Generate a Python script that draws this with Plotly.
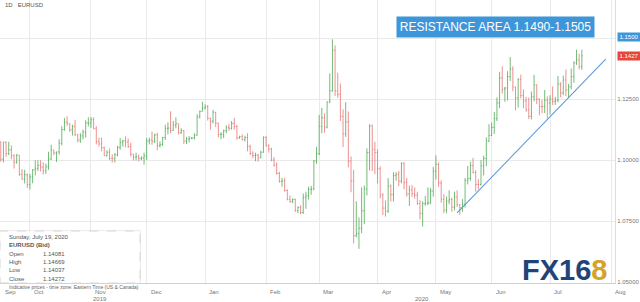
import pandas as pd
import plotly.graph_objects as go

# ---------------- data (EURUSD daily) ----------------
first_open = 1.1075
close = [
    # Sep 2019 (16..30)
    1.1003, 1.1073, 1.1027, 1.1042, 1.1017, 1.0991, 1.1020, 1.0941, 1.0922, 1.0940, 1.0899,
    # Oct
    1.0931, 1.0960, 1.0966, 1.0978, 1.0971, 1.0956, 1.0972, 1.1004, 1.1041, 1.1029, 1.1033, 1.1069,
    1.1125, 1.1155, 1.1150, 1.1124, 1.1137, 1.1104, 1.1082, 1.1099, 1.1115, 1.1152, 1.1152,
    # Nov
    1.1165, 1.1128, 1.1075, 1.1066, 1.1051, 1.1018, 1.1032, 1.1007, 1.1006, 1.1022, 1.1052,
    1.1073, 1.1079, 1.1074, 1.1055, 1.1024, 1.1012, 1.1013, 1.1006, 1.1009, 1.1017,
    # Dec
    1.1078, 1.1082, 1.1077, 1.1103, 1.1059, 1.1063, 1.1092, 1.1130, 1.1131, 1.1121, 1.1143,
    1.1149, 1.1112, 1.1121, 1.1078, 1.1086, 1.1089, 1.1090, 1.1102, 1.1177, 1.1199, 1.1213,
    # Jan 2020
    1.1218, 1.1171, 1.1159, 1.1196, 1.1151, 1.1105, 1.1106, 1.1120, 1.1135, 1.1130, 1.1150, 1.1137,
    1.1091, 1.1096, 1.1084, 1.1092, 1.1056, 1.1027, 1.1019, 1.1020, 1.1009, 1.1032, 1.1093,
    # Feb
    1.1060, 1.1045, 1.1000, 1.0980, 1.0945, 1.0912, 1.0915, 1.0875, 1.0838, 1.0830,
    1.0838, 1.0793, 1.0806, 1.0785, 1.0846, 1.0853, 1.0880, 1.0882, 1.0996, 1.1026,
    # Mar
    1.1138, 1.1173, 1.1135, 1.1238, 1.1284, 1.1450, 1.1284, 1.1269, 1.1179, 1.1107, 1.1157,
    1.0996, 1.0915, 1.0690, 1.0698, 1.0720, 1.0792, 1.0881, 1.1030, 1.1140, 1.1044, 1.1031,
    # Apr
    1.0964, 1.0857, 1.0803, 1.0791, 1.0893, 1.0858, 1.0936, 1.0942, 1.0914, 1.0987, 1.0908,
    1.0861, 1.0877, 1.0862, 1.0856, 1.0822, 1.0781, 1.0821, 1.0823, 1.0825, 1.0873, 1.0954,
    # May
    1.0982, 1.0906, 1.0839, 1.0795, 1.0832, 1.0838, 1.0807, 1.0849, 1.0817, 1.0805, 1.0819,
    1.0917, 1.0924, 1.0978, 1.0949, 1.0900, 1.0900, 1.0976, 1.1006, 1.1077, 1.1101,
    # Jun
    1.1134, 1.1170, 1.1234, 1.1336, 1.1290, 1.1295, 1.1342, 1.1373, 1.1300, 1.1255, 1.1330,
    1.1264, 1.1242, 1.1207, 1.1179, 1.1259, 1.1308, 1.1250, 1.1219, 1.1219, 1.1245, 1.1234,
    # Jul (1..17)
    1.1250, 1.1240, 1.1246, 1.1311, 1.1275, 1.1328, 1.1287, 1.1300, 1.1342, 1.1398, 1.1410,
    1.1382, 1.1427,
]
high = [
    1.1076, 1.1075, 1.1076, 1.1075, 1.1060, 1.1025, 1.1025, 1.1020, 1.0963, 1.0960, 1.0945,
    1.0943, 1.0963, 1.0999, 1.0999, 1.0999, 1.0991, 1.0985, 1.1034, 1.1063, 1.1041, 1.1035, 1.1085,
    1.1139, 1.1172, 1.1179, 1.1150, 1.1145, 1.1164, 1.1107, 1.1110, 1.1125, 1.1163, 1.1175,
    1.1176, 1.1175, 1.1139, 1.1092, 1.1092, 1.1055, 1.1040, 1.1047, 1.1024, 1.1029, 1.1058,
    1.1090, 1.1083, 1.1097, 1.1089, 1.1071, 1.1025, 1.1030, 1.1022, 1.1015, 1.1030,
    1.1090, 1.1092, 1.1117, 1.1108, 1.1112, 1.1076, 1.1095, 1.1145, 1.1155, 1.1200, 1.1160,
    1.1175, 1.1149, 1.1130, 1.1123, 1.1095, 1.1098, 1.1095, 1.1110, 1.1188, 1.1203, 1.1239,
    1.1228, 1.1226, 1.1174, 1.1206, 1.1197, 1.1153, 1.1114, 1.1125, 1.1142, 1.1148, 1.1160, 1.1173,
    1.1144, 1.1100, 1.1105, 1.1100, 1.1110, 1.1063, 1.1036, 1.1030, 1.1025, 1.1038, 1.1097,
    1.1097, 1.1064, 1.1050, 1.1012, 1.0990, 1.0952, 1.0927, 1.0927, 1.0880, 1.0855,
    1.0843, 1.0842, 1.0810, 1.0815, 1.0863, 1.0870, 1.0891, 1.0894, 1.1000, 1.1054,
    1.1185, 1.1214, 1.1191, 1.1240, 1.1355, 1.1495, 1.1470, 1.1358, 1.1314, 1.1208, 1.1237,
    1.1199, 1.1015, 1.0960, 1.0831, 1.0765, 1.0888, 1.0895, 1.1048, 1.1147, 1.1145, 1.1075,
    1.1044, 1.0974, 1.0865, 1.0835, 1.0926, 1.0900, 1.0950, 1.0950, 1.0955, 1.0990, 1.0990,
    1.0926, 1.0895, 1.0898, 1.0888, 1.0870, 1.0836, 1.0831, 1.0853, 1.0888, 1.0886, 1.0972,
    1.1019, 1.0990, 1.0917, 1.0860, 1.0850, 1.0876, 1.0846, 1.0870, 1.0876, 1.0820, 1.0840,
    1.0926, 1.0976, 1.0993, 1.1009, 1.0958, 1.0922, 1.1000, 1.1018, 1.1093, 1.1147,
    1.1154, 1.1197, 1.1257, 1.1361, 1.1384, 1.1300, 1.1364, 1.1422, 1.1384, 1.1300, 1.1335,
    1.1350, 1.1290, 1.1259, 1.1256, 1.1281, 1.1349, 1.1310, 1.1252, 1.1247, 1.1287, 1.1261,
    1.1266, 1.1302, 1.1259, 1.1345, 1.1319, 1.1346, 1.1371, 1.1312, 1.1375, 1.1405, 1.1452,
    1.1436, 1.1452,
]
low = [
    1.0993, 1.0990, 1.1013, 1.1020, 1.1003, 1.0965, 1.0985, 1.0935, 1.0920, 1.0904, 1.0885,
    1.0879, 1.0905, 1.0937, 1.0955, 1.0953, 1.0940, 1.0943, 1.0960, 1.1000, 1.1020, 1.0992, 1.1022,
    1.1060, 1.1120, 1.1140, 1.1115, 1.1100, 1.1098, 1.1072, 1.1070, 1.1085, 1.1092, 1.1138,
    1.1132, 1.1127, 1.1064, 1.1055, 1.1036, 1.1017, 1.1015, 1.0999, 1.0989, 1.0990, 1.1015,
    1.1042, 1.1055, 1.1052, 1.1050, 1.1014, 1.0998, 1.0998, 1.0994, 1.0999, 1.0981,
    1.1000, 1.1064, 1.1063, 1.1070, 1.1040, 1.1052, 1.1058, 1.1082, 1.1105, 1.1110, 1.1120,
    1.1130, 1.1105, 1.1107, 1.1066, 1.1065, 1.1072, 1.1085, 1.1085, 1.1100, 1.1170, 1.1200,
    1.1208, 1.1162, 1.1125, 1.1150, 1.1135, 1.1093, 1.1085, 1.1090, 1.1110, 1.1120, 1.1125, 1.1125,
    1.1083, 1.1087, 1.1080, 1.1076, 1.1036, 1.1020, 1.1007, 1.0995, 1.0993, 1.1008, 1.1030,
    1.1055, 1.1030, 1.0995, 1.0972, 1.0941, 1.0907, 1.0891, 1.0870, 1.0835, 1.0825,
    1.0823, 1.0788, 1.0782, 1.0778, 1.0779, 1.0800, 1.0838, 1.0858, 1.0876, 1.0985,
    1.1020, 1.1110, 1.1112, 1.1130, 1.1234, 1.1280, 1.1262, 1.1255, 1.1160, 1.1053, 1.1095,
    1.0970, 1.0868, 1.0658, 1.0683, 1.0636, 1.0700, 1.0737, 1.0855, 1.0957, 1.0955, 1.0942,
    1.0904, 1.0843, 1.0775, 1.0768, 1.0783, 1.0830, 1.0830, 1.0915, 1.0893, 1.0905, 1.0880,
    1.0850, 1.0812, 1.0849, 1.0842, 1.0816, 1.0757, 1.0727, 1.0813, 1.0815, 1.0819, 1.0850,
    1.0920, 1.0890, 1.0825, 1.0782, 1.0782, 1.0818, 1.0788, 1.0793, 1.0807, 1.0775, 1.0788,
    1.0805, 1.0900, 1.0915, 1.0945, 1.0870, 1.0880, 1.0895, 1.0937, 1.0975, 1.1075,
    1.1098, 1.1107, 1.1160, 1.1212, 1.1273, 1.1239, 1.1244, 1.1324, 1.1282, 1.1204, 1.1215,
    1.1253, 1.1212, 1.1198, 1.1168, 1.1167, 1.1241, 1.1230, 1.1183, 1.1192, 1.1192, 1.1170,
    1.1187, 1.1225, 1.1226, 1.1237, 1.1258, 1.1266, 1.1262, 1.1254, 1.1290, 1.1317, 1.1390,
    1.1372, 1.1370,
]
dates = pd.bdate_range("2019-09-16", "2020-07-17")
assert len(dates) == len(close) == len(high) == len(low), (len(dates), len(close), len(high), len(low))
open_ = [first_open] + close[:-1]

resistance_level = 1.1505
current_level = 1.1427
trend_dates = ["2020-05-13", "2020-07-30"]
trend_prices = [1.0783, 1.1414]

y_ticks = [1.05, 1.075, 1.10, 1.125, 1.15]
month_ticks = ["2019-10-01", "2019-11-01", "2019-12-02", "2020-01-01", "2020-02-03",
               "2020-03-02", "2020-04-01", "2020-05-01", "2020-06-01", "2020-07-01", "2020-08-03"]
month_labels = ["Oct", "Nov", "Dec", "Jan", "Feb", "Mar", "Apr", "May", "Jun", "Jul", "Aug"]

# ---------------- figure ----------------
W, H = 640, 302
PL, PR, PT, PB = 0, 25, 0, 19
pw, ph = W - PL - PR, H - PT - PB

def px(x):
    return (x - PL) / pw

def py(y):
    return 1 - (y - PT) / ph

fig = go.Figure()
fig.add_trace(go.Ohlc(
    x=dates, open=open_, high=high, low=low, close=close,
    increasing=dict(line=dict(color="rgba(70,165,75,0.75)", width=1)),
    decreasing=dict(line=dict(color="rgba(228,100,100,0.7)", width=1)),
    tickwidth=0.35, showlegend=False, hoverinfo="skip",
))
fig.add_trace(go.Scatter(
    x=trend_dates, y=trend_prices, mode="lines",
    line=dict(color="rgb(95,155,215)", width=1.1), showlegend=False, hoverinfo="skip",
))

fig.add_hline(y=resistance_level, line=dict(color="rgb(120,170,220)", width=1.6))
fig.add_hline(y=current_level, line=dict(color="rgb(230,70,70)", width=1, dash="dash"))

ann = []
# month labels
for d, lab in zip(month_ticks, month_labels):
    ann.append(dict(x=d, y=py(292), xref="x", yref="paper", text=lab, showarrow=False,
                    xanchor="left", xshift=2, yanchor="middle",
                    font=dict(size=6, color="#777", family="Liberation Sans")))
ann.append(dict(x=px(3), y=py(292), xref="paper", yref="paper", text="Sep", showarrow=False,
                xanchor="left", yanchor="middle", font=dict(size=6, color="#777", family="Liberation Sans")))
for xx, lab in [(100, "2019"), (422, "2020")]:
    ann.append(dict(x=px(xx), y=py(299), xref="paper", yref="paper", text=lab, showarrow=False,
                    xanchor="center", yanchor="middle", font=dict(size=6, color="#777", family="Liberation Sans")))
# top-left title
ann.append(dict(x=px(3), y=py(5), xref="paper", yref="paper", text="1D &nbsp; EURUSD", showarrow=False,
                xanchor="left", yanchor="middle", font=dict(size=6, color="#555", family="Liberation Sans")))
# resistance label
ann.append(dict(x=px(495.5), y=py(26.5), xref="paper", yref="paper",
                text="RESISTANCE AREA 1.1490-1.1505", showarrow=False,
                xanchor="center", yanchor="middle", bgcolor="rgb(62,150,218)", borderpad=3,
                width=191, height=14,
                font=dict(size=12, color="white", family="Liberation Sans")))
# price boxes on right
ann.append(dict(x=px(629), y=py(36.5), xref="paper", yref="paper", text="1.1500", showarrow=False,
                xanchor="center", yanchor="middle", bgcolor="rgb(62,150,218)", borderpad=1, width=20,
                font=dict(size=6, color="white", family="Liberation Sans")))
ann.append(dict(x=px(629), y=py(56.5), xref="paper", yref="paper", text="1.1427", showarrow=False,
                xanchor="center", yanchor="middle", bgcolor="rgb(230,70,60)", borderpad=1, width=20,
                font=dict(size=6, color="white", family="Liberation Sans")))
# info box
info_lines = [("Sunday, July 19, 2020", None, False), ("EURUSD (Bid)", None, True),
              ("Open", "1.14081", False), ("High", "1.14669", False),
              ("Low", "1.14037", False), ("Close", "1.14272", False)]
for i, (k, v, b) in enumerate(info_lines):
    yy = 237 + i * 8.3
    t = f"<b>{k}</b>" if b else k
    ann.append(dict(x=px(7), y=py(yy), xref="paper", yref="paper", text=t, showarrow=False,
                    xanchor="left", yanchor="middle", font=dict(size=6, color="#555", family="Liberation Sans")))
    if v:
        ann.append(dict(x=px(41), y=py(yy), xref="paper", yref="paper", text=v, showarrow=False,
                        xanchor="left", yanchor="middle", font=dict(size=6, color="#555", family="Liberation Sans")))
ann.append(dict(x=px(7), y=py(286.5), xref="paper", yref="paper",
                text="Indicative prices - time zone: Eastern Time (US & Canada)", showarrow=False,
                xanchor="left", yanchor="middle", font=dict(size=5, color="#666", family="Liberation Sans")))
# logo
ann.append(dict(x=px(564), y=py(270), xref="paper", yref="paper",
                text="<b><span style='color:#1f4479'>FX16</span><span style='color:#d6a22a'>8</span></b>",
                showarrow=False, xanchor="center", yanchor="middle",
                font=dict(size=29, family="Liberation Sans")))

shapes = [dict(type="rect", xref="paper", yref="paper", x0=px(0), x1=px(140), y0=py(283), y1=py(231),
               fillcolor="rgba(255,255,255,0.9)", line=dict(color="#d8d8d8", width=1), layer="above")]

fig.update_layout(
    width=W, height=H, margin=dict(l=PL, r=PR, t=PT, b=PB, pad=0),
    paper_bgcolor="white", plot_bgcolor="white",
    annotations=ann, shapes=shapes,
    xaxis=dict(
        type="date", range=["2019-09-13 17:00", "2020-08-04 12:00"],
        rangebreaks=[dict(bounds=["sat", "mon"])],
        rangeslider=dict(visible=False),
        tickvals=month_ticks, showticklabels=False, ticks="",
        showgrid=True, gridcolor="#e9e9e9", gridwidth=1.2,
        showline=True, linecolor="#d0d0d0", linewidth=1, zeroline=False,
        fixedrange=True,
    ),
    yaxis=dict(
        side="right", range=[1.0496, 1.1656], tickvals=y_ticks,
        ticktext=["1.05000", "1.07500", "1.10000", "1.12500", ""],
        showgrid=True, gridcolor="#e9e9e9", gridwidth=1, zeroline=False,
        showline=True, linecolor="#dcdcdc", linewidth=1, ticks="",
        tickfont=dict(size=6, color="#777", family="Liberation Sans"),
        fixedrange=True,
    ),
    font=dict(family="Liberation Sans"),
)

fig.write_html("out.html")
